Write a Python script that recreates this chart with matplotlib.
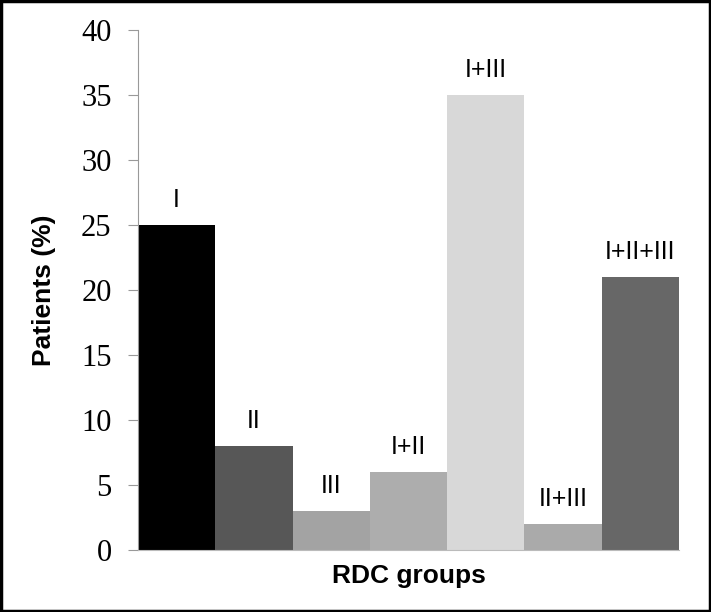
import matplotlib

matplotlib.use("Agg")
import matplotlib.pyplot as plt
from matplotlib.patches import Rectangle

groups = ["I", "II", "III", "I+II", "I+III", "II+III", "I+II+III"]
patients_pct = [25, 8, 3, 6, 35, 2, 21]
bar_colors = ["#000000", "#575757", "#a3a3a3", "#adadad", "#d8d8d8", "#aaaaaa", "#676767"]
y_ticks = [0, 5, 10, 15, 20, 25, 30, 35, 40]

fig = plt.figure(figsize=(7.11, 6.12), dpi=100)
ax = fig.add_axes([0.194, 0.101, 0.761, 0.850])

x = list(range(len(groups)))
ax.bar(x, patients_pct, width=1.0, color=bar_colors, edgecolor="none")

for xi, val, name in zip(x, patients_pct, groups):
    ax.text(xi, val + 1.0, name, ha="center", va="bottom",
            fontsize=18, family="Liberation Sans")

ax.set_xlim(-0.5, len(groups) - 0.5)
ax.set_ylim(0, 40)
ax.set_yticks(y_ticks)
ax.set_yticklabels([str(t) for t in y_ticks], family="Liberation Serif", fontsize=22)
ax.set_xticks([])
ax.tick_params(axis="y", direction="out", length=7, color="#999999", pad=12)

for side in ["top", "right"]:
    ax.spines[side].set_visible(False)
ax.spines["left"].set_color("#999999")
ax.spines["bottom"].set_color("#bbbbbb")

ax.set_ylabel("Patients (%)", fontsize=19, fontweight="bold", family="Liberation Sans", labelpad=18)
ax.set_xlabel("RDC groups", fontsize=19, fontweight="bold", family="Liberation Sans", labelpad=10)

# frame around the whole picture
fig.patches.append(Rectangle((0.002, 0.002), 0.996, 0.996, transform=fig.transFigure,
                             fill=False, edgecolor="black", linewidth=2.5))

fig.savefig("out.png", dpi=100)
